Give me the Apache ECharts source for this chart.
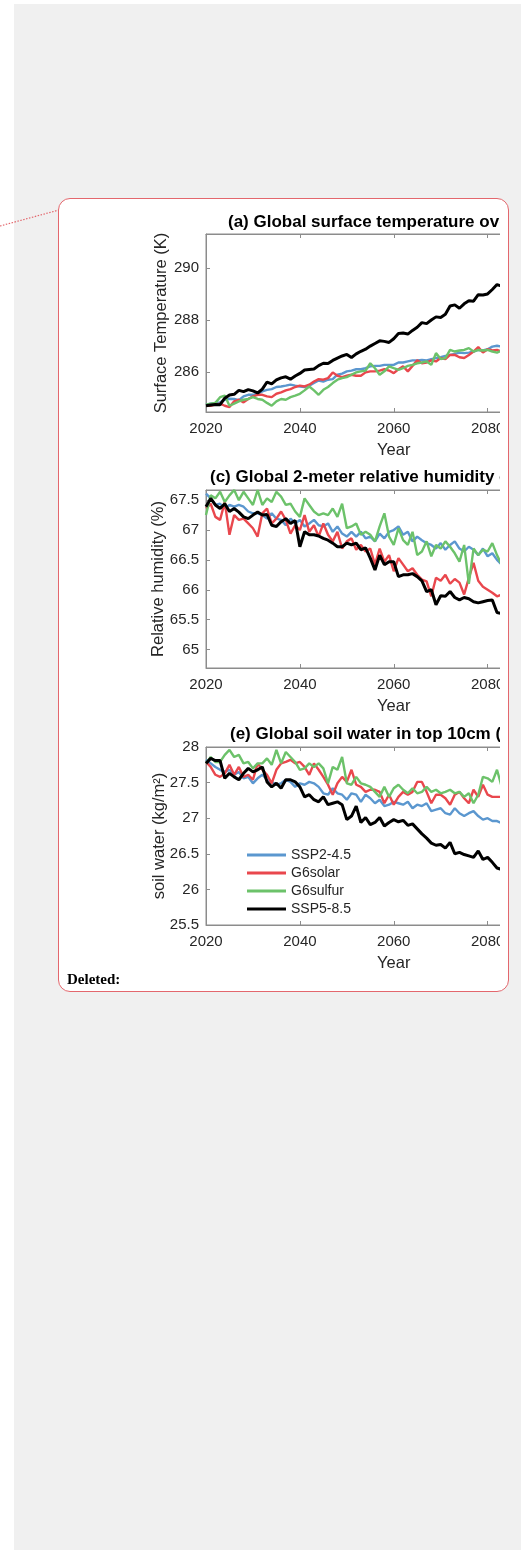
<!DOCTYPE html>
<html>
<head>
<meta charset="utf-8">
<title>global land climate</title>
<script src="https://cdn.jsdelivr.net/npm/echarts@6/dist/echarts.min.js"></script>
<style>
  body { margin: 0; width: 521px; height: 1550px; position: relative; overflow: hidden; background: #fff; }
  #page { position: absolute; left: 14px; top: 4px; right: 0; bottom: 0; background: #f0f0f0; }
  #box { position: absolute; left: 58px; top: 198px; width: 451px; height: 794px; box-sizing: border-box;
         border: 1.5px solid #e3676d; border-radius: 12px; background: #fff; }
  #main { position: absolute; left: 0; top: 0; width: 700px; height: 1000px; clip-path: inset(0 200px 0 0); }
  #deleted { position: absolute; left: 67px; top: 971px; font: bold 15px 'Liberation Serif', serif; color: #000; }
  #link { position: absolute; left: 0; top: 0; }
</style>
</head>
<body>
<div id="page"></div>
<svg id="link" width="70" height="240"><line x1="0" y1="226" x2="59" y2="210" stroke="#e3676d" stroke-width="1.2" stroke-dasharray="1.5,1.5"/></svg>
<div id="box"></div>
<div id="main"></div>
<div id="deleted">Deleted:</div>
<script type="text/javascript">
// ---------- data ----------
var years = [2020, 2021, 2022, 2023, 2024, 2025, 2026, 2027, 2028, 2029,
  2030, 2031, 2032, 2033, 2034, 2035, 2036, 2037, 2038, 2039,
  2040, 2041, 2042, 2043, 2044, 2045, 2046, 2047, 2048, 2049,
  2050, 2051, 2052, 2053, 2054, 2055, 2056, 2057, 2058, 2059,
  2060, 2061, 2062, 2063, 2064, 2065, 2066, 2067, 2068, 2069,
  2070, 2071, 2072, 2073, 2074, 2075, 2076, 2077, 2078, 2079,
  2080, 2081, 2082, 2083];
var scenarios = ['SSP2-4.5', 'G6solar', 'G6sulfur', 'SSP5-8.5'];

// (a) surface temperature (K)
var tasSsp245 = [284.75, 284.79, 284.82, 284.84, 284.94, 284.98, 284.97, 284.92, 285.07, 285.13,
  285.13, 285.17, 285.26, 285.32, 285.35, 285.43, 285.45, 285.48, 285.52, 285.48,
  285.45, 285.43, 285.48, 285.58, 285.68, 285.64, 285.71, 285.73, 285.90, 285.94,
  286.03, 286.06, 286.11, 286.11, 286.15, 286.22, 286.24, 286.24, 286.28, 286.28,
  286.28, 286.37, 286.37, 286.41, 286.45, 286.45, 286.47, 286.45, 286.50, 286.54,
  286.57, 286.62, 286.66, 286.70, 286.75, 286.73, 286.75, 286.79, 286.85, 286.83,
  286.88, 286.98, 287.01, 286.98];
var tasSolar = [284.71, 284.71, 284.75, 284.79, 284.71, 284.66, 284.88, 284.94, 284.84, 284.97,
  285.07, 285.13, 285.13, 285.07, 285.04, 285.17, 285.22, 285.30, 285.35, 285.43,
  285.48, 285.45, 285.52, 285.64, 285.73, 285.71, 285.77, 285.99, 285.86, 285.81,
  285.86, 285.90, 285.86, 285.86, 285.99, 286.03, 286.03, 286.06, 286.11, 286.06,
  285.96, 286.11, 286.22, 286.03, 286.24, 286.45, 286.34, 286.37, 286.45, 286.41,
  286.54, 286.50, 286.66, 286.66, 286.57, 286.54, 286.66, 286.79, 286.96, 286.75,
  286.88, 286.83, 286.85, 286.79];
var tasSulfur = [284.75, 284.79, 284.82, 285.04, 285.10, 284.71, 284.79, 284.88, 284.94, 284.97,
  285.04, 284.97, 284.94, 284.82, 284.71, 284.88, 284.97, 284.94, 285.04, 285.10,
  285.17, 285.30, 285.45, 285.30, 285.13, 285.32, 285.43, 285.58, 285.71, 285.77,
  285.81, 285.90, 285.99, 286.03, 286.06, 286.34, 286.15, 285.90, 286.03, 286.22,
  286.15, 286.09, 286.15, 286.24, 286.28, 286.34, 286.37, 286.41, 286.28, 286.73,
  286.50, 286.54, 286.85, 286.79, 286.83, 286.85, 286.92, 286.79, 286.85, 286.83,
  286.85, 286.79, 286.75, 286.83];
var tasSsp585 = [284.71, 284.74, 284.76, 284.75, 285.00, 285.12, 285.15, 285.30, 285.25, 285.33,
  285.28, 285.20, 285.35, 285.62, 285.55, 285.70, 285.78, 285.82, 285.73, 285.85,
  285.95, 286.08, 286.10, 286.12, 286.25, 286.34, 286.33, 286.45, 286.54, 286.62,
  286.68, 286.56, 286.70, 286.80, 286.88, 287.00, 287.10, 287.20, 287.18, 287.14,
  287.28, 287.48, 287.50, 287.46, 287.60, 287.72, 287.90, 287.86, 288.00, 288.12,
  288.10, 288.22, 288.54, 288.58, 288.45, 288.62, 288.74, 288.72, 288.97, 288.96,
  289.00, 289.17, 289.36, 289.30];

// (c) 2-m relative humidity (%)
var hursSsp245 = [67.61, 67.53, 67.42, 67.44, 67.36, 67.42, 67.39, 67.42, 67.39, 67.31,
  67.28, 67.28, 67.25, 67.19, 67.28, 67.19, 67.17, 67.08, 67.19, 67.11,
  67.17, 67.06, 67.11, 67.17, 67.08, 67.06, 67.11, 66.97, 67.06, 66.94,
  66.89, 66.97, 66.89, 66.97, 66.86, 66.89, 66.81, 66.94, 66.86, 66.97,
  67.00, 67.06, 66.92, 66.97, 66.81, 66.89, 66.83, 66.78, 66.75, 66.69,
  66.78, 66.67, 66.75, 66.81, 66.69, 66.64, 66.72, 66.67, 66.58, 66.69,
  66.56, 66.61, 66.50, 66.42];
var hursSolar = [67.36, 67.44, 67.22, 67.17, 67.47, 66.92, 67.25, 67.17, 67.19, 67.11,
  67.03, 66.89, 67.28, 67.36, 67.11, 67.19, 67.31, 67.17, 66.94, 67.08,
  67.00, 67.25, 66.97, 67.08, 66.89, 67.11, 66.92, 66.81, 66.97, 66.69,
  66.81, 66.86, 66.67, 66.75, 66.64, 66.69, 66.42, 66.69, 66.47, 66.58,
  66.31, 66.53, 66.42, 66.31, 66.36, 66.25, 66.17, 66.14, 65.89, 66.20,
  66.15, 66.25, 66.10, 66.18, 66.12, 65.92, 66.20, 66.45, 66.15, 66.05,
  66.00, 65.95, 65.89, 65.92];
var hursSulfur = [67.25, 67.58, 67.53, 67.64, 67.47, 67.58, 67.67, 67.50, 67.64, 67.53,
  67.42, 67.67, 67.42, 67.53, 67.47, 67.64, 67.56, 67.42, 67.44, 67.31,
  67.22, 67.53, 67.42, 67.31, 67.25, 67.28, 67.25, 67.36, 67.22, 67.44,
  67.03, 67.06, 67.11, 66.92, 66.97, 66.92, 66.81, 67.06, 67.28, 66.89,
  66.75, 67.03, 66.83, 66.75, 66.97, 66.58, 66.64, 66.81, 66.56, 66.75,
  66.69, 66.81, 66.72, 66.61, 66.47, 66.75, 66.10, 66.69, 66.58, 66.67,
  66.64, 66.78, 66.58, 66.42];
var hursSsp585 = [67.39, 67.53, 67.42, 67.36, 67.44, 67.31, 67.36, 67.30, 67.22, 67.19,
  67.25, 67.30, 67.25, 67.26, 67.08, 67.06, 67.14, 67.19, 67.11, 67.16,
  66.72, 66.97, 66.92, 66.92, 66.90, 66.86, 66.83, 66.78, 66.72, 66.72,
  66.78, 66.75, 66.78, 66.67, 66.70, 66.53, 66.33, 66.58, 66.42, 66.47,
  66.47, 66.22, 66.25, 66.25, 66.27, 66.22, 66.15, 65.97, 66.00, 65.75,
  65.90, 65.89, 65.97, 65.87, 65.83, 65.87, 65.85, 65.80, 65.78, 65.80,
  65.82, 65.83, 65.62, 65.60];

// (e) soil water in top 10cm (kg/m2)
var soilSsp245 = [27.82, 27.77, 27.72, 27.68, 27.65, 27.68, 27.61, 27.65, 27.56, 27.58,
  27.49, 27.56, 27.61, 27.54, 27.51, 27.47, 27.49, 27.54, 27.51, 27.44,
  27.49, 27.47, 27.51, 27.49, 27.44, 27.35, 27.33, 27.42, 27.35, 27.33,
  27.26, 27.35, 27.33, 27.23, 27.33, 27.28, 27.21, 27.26, 27.17, 27.19,
  27.23, 27.21, 27.19, 27.23, 27.14, 27.19, 27.17, 27.21, 27.10, 27.12,
  27.14, 27.07, 27.05, 27.14, 27.07, 27.03, 27.07, 27.10, 27.03, 26.98,
  27.00, 26.96, 26.96, 26.93];
var soilSolar = [27.79, 27.72, 27.61, 27.58, 27.63, 27.75, 27.61, 27.72, 27.58, 27.61,
  27.54, 27.77, 27.68, 27.61, 27.49, 27.68, 27.77, 27.79, 27.82, 27.77,
  27.79, 27.72, 27.61, 27.77, 27.68, 27.58, 27.47, 27.33, 27.49, 27.58,
  27.51, 27.68, 27.47, 27.44, 27.37, 27.40, 27.40, 27.37, 27.21, 27.33,
  27.19, 27.30, 27.37, 27.33, 27.37, 27.51, 27.51, 27.37, 27.21, 27.33,
  27.33, 27.28, 27.19, 27.33, 27.37, 27.28, 27.21, 27.40, 27.30, 27.47,
  27.33, 27.30, 27.30, 27.30];
var soilSulfur = [27.77, 27.86, 27.79, 27.79, 27.89, 27.96, 27.86, 27.89, 27.77, 27.79,
  27.70, 27.77, 27.77, 27.84, 27.75, 27.96, 27.77, 27.93, 27.86, 27.79,
  27.68, 27.70, 27.77, 27.72, 27.77, 27.70, 27.49, 27.72, 27.68, 27.86,
  27.49, 27.47, 27.58, 27.49, 27.47, 27.44, 27.37, 27.30, 27.44, 27.30,
  27.42, 27.47, 27.40, 27.35, 27.42, 27.35, 27.37, 27.44, 27.37, 27.40,
  27.35, 27.37, 27.40, 27.35, 27.37, 27.30, 27.35, 27.21, 27.33, 27.58,
  27.56, 27.51, 27.68, 27.44];
var soilSsp585 = [27.77, 27.84, 27.81, 27.81, 27.56, 27.63, 27.58, 27.54, 27.63, 27.70,
  27.65, 27.68, 27.72, 27.51, 27.44, 27.49, 27.42, 27.54, 27.54, 27.51,
  27.44, 27.30, 27.33, 27.26, 27.23, 27.30, 27.19, 27.21, 27.23, 27.19,
  26.98, 27.03, 27.17, 26.94, 27.01, 26.91, 26.94, 27.01, 26.89, 26.94,
  26.98, 26.95, 26.97, 26.90, 26.92, 26.85, 26.78, 26.72, 26.65, 26.62,
  26.63, 26.58, 26.66, 26.50, 26.52, 26.49, 26.47, 26.45, 26.54, 26.42,
  26.45, 26.38, 26.30, 26.28];

var tasTicks = [286, 288, 290];
var hursTicks = [65, 65.5, 66, 66.5, 67, 67.5];
var soilTicks = [25.5, 26, 26.5, 27, 27.5, 28];

// ---------- style ----------
var colors = ['#5b97cf', '#e9474d', '#6cc26a', '#000000'];
var font = "'Liberation Sans', Arial, sans-serif";
var axisGray = '#8c8c8c';
var textColor = '#262626';

var panels = [
  { title: '(a) Global surface temperature over land', titleLeft: 228, titleTop: 214,
    top: 234, min: 284.47, max: 291.3, ticks: tasTicks, name: 'Surface Temperature (K)', nameGap: 36,
    data: [tasSsp245, tasSolar, tasSulfur, tasSsp585] },
  { title: '(c) Global 2-meter relative humidity over land', titleLeft: 210, titleTop: 469,
    top: 490, min: 64.69, max: 67.67, ticks: hursTicks, name: 'Relative humidity (%)', nameGap: 39,
    data: [hursSsp245, hursSolar, hursSulfur, hursSsp585] },
  { title: '(e) Global soil water in top 10cm (mrsos)', titleLeft: 230, titleTop: 726,
    top: 747, min: 25.5, max: 28, ticks: soilTicks, name: 'soil water (kg/m\u00b2)', nameGap: 38,
    data: [soilSsp245, soilSolar, soilSulfur, soilSsp585] }
];

function plain(v) { return String(v); }

var option = { animation: false, title: [], grid: [], xAxis: [], yAxis: [], series: [] };

panels.forEach(function (p, i) {
  option.title.push({
    text: p.title, left: p.titleLeft, top: p.titleTop, padding: 0,
    textStyle: { fontFamily: font, fontSize: 17, fontWeight: 'bold', color: '#000' }
  });
  option.grid.push({
    left: 206, top: p.top, width: 375.5, height: 178,
    show: true, borderColor: axisGray, borderWidth: 1
  });
  option.xAxis.push({
    gridIndex: i, type: 'value', min: 2020, max: 2100, interval: 20,
    axisLine: { show: true, lineStyle: { color: axisGray } },
    axisTick: { inside: true, length: 4, lineStyle: { color: axisGray } },
    splitLine: { show: false },
    axisLabel: { formatter: plain, color: textColor, fontFamily: font, fontSize: 15, margin: 9 },
    name: 'Year', nameLocation: 'middle', nameGap: 30, nameMoveOverlap: false,
    nameTextStyle: { color: textColor, fontFamily: font, fontSize: 16.5 }
  });
  option.xAxis.push({
    gridIndex: i, type: 'value', position: 'top', min: 2020, max: 2100, interval: 20,
    axisLine: { show: true, lineStyle: { color: axisGray } },
    axisTick: { inside: true, length: 4, lineStyle: { color: axisGray } },
    splitLine: { show: false }, axisLabel: { show: false }
  });
  option.yAxis.push({
    gridIndex: i, type: 'value', min: p.min, max: p.max,
    axisLine: { show: true, lineStyle: { color: axisGray } },
    axisTick: { inside: true, length: 4, customValues: p.ticks, lineStyle: { color: axisGray } },
    splitLine: { show: false },
    axisLabel: { customValues: p.ticks, formatter: plain, color: textColor, fontFamily: font, fontSize: 15, margin: 7 },
    name: p.name, nameLocation: 'middle', nameGap: p.nameGap, nameMoveOverlap: false,
    nameTextStyle: { color: textColor, fontFamily: font, fontSize: 16.5 }
  });
  p.data.forEach(function (vals, k) {
    option.series.push({
      name: scenarios[k], type: 'line', xAxisIndex: i * 2, yAxisIndex: i,
      showSymbol: false, symbol: 'none',
      lineStyle: { width: k === 3 ? 3 : 2.4, color: colors[k] },
      itemStyle: { color: colors[k] },
      data: years.map(function (y, j) { return [y, vals[j]]; })
    });
  });
});

option.legend = {
  data: scenarios, orient: 'vertical', left: 247, top: 848, padding: 0,
  icon: 'rect', itemWidth: 39, itemHeight: 3, itemGap: 4,
  textStyle: { fontFamily: font, fontSize: 14, color: textColor }
};

var myChart = echarts.init(document.getElementById('main'));
myChart.setOption(option);
</script>
</body>
</html>
